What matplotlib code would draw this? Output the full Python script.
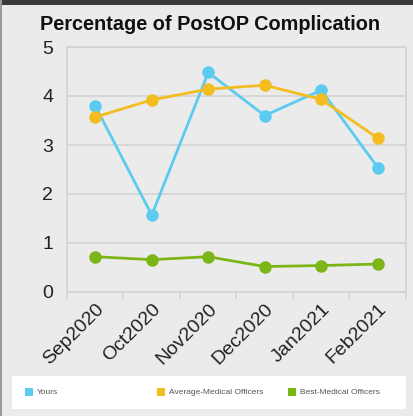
import matplotlib.pyplot as plt
from matplotlib.patches import Rectangle

plt.rcParams['font.family'] = ['Liberation Sans', 'DejaVu Sans']

months = ['Sep2020', 'Oct2020', 'Nov2020', 'Dec2020', 'Jan2021', 'Feb2021']
yours = [3.80, 1.57, 4.48, 3.60, 4.12, 2.54]
average_mo = [3.57, 3.92, 4.14, 4.22, 3.93, 3.14]
best_mo = [0.72, 0.66, 0.72, 0.52, 0.54, 0.57]

c_yours = '#5bcbf0'
c_avg = '#f4bd1f'
c_best = '#7cb518'
bg = '#ebebeb'
grid = '#d3d3d3'

W, H = 414, 416
fig = plt.figure(figsize=(W / 100, H / 100), dpi=100, facecolor=bg)

# frame of the screenshot
fig.patches.append(Rectangle((0, 1 - 5 / H), 1, 5 / H, transform=fig.transFigure,
                             facecolor='#3a3a3a', edgecolor='none'))
fig.patches.append(Rectangle((0, 0), 2 / W, 1, transform=fig.transFigure,
                             facecolor='#9a9a9a', edgecolor='none'))

# plot area in pixels: x 67..406, y 47..292
ax = fig.add_axes([67 / W, 1 - 292 / H, (406 - 67) / W, (292 - 47) / H])
ax.set_facecolor(bg)

x = list(range(len(months)))
ax.plot(x, yours, color=c_yours, lw=2.0, marker='o', ms=8, zorder=3)
ax.plot(x, average_mo, color=c_avg, lw=2.0, marker='o', ms=8, zorder=3)
ax.plot(x, best_mo, color=c_best, lw=2.0, marker='o', ms=8, zorder=3)

ax.set_xlim(-0.5, 5.5)
ax.set_ylim(0, 5)
ax.set_yticks([0, 1, 2, 3, 4, 5])
ax.yaxis.grid(True, color=grid, lw=1.2)
ax.set_axisbelow(True)

ax.set_xticks(x)
ax.set_xticklabels(months, rotation=45, ha='right', rotation_mode='anchor',
                   fontsize=14, color='#222222')
ax.set_xticks([i - 0.5 for i in range(len(months) + 1)], minor=True)
ax.tick_params(axis='x', which='major', length=0, pad=6)
ax.tick_params(axis='x', which='minor', length=5, color=grid, width=1.2)
ax.tick_params(axis='y', length=0, labelsize=14, pad=10, labelcolor='#222222')

for s in ax.spines.values():
    s.set_color(grid)
    s.set_linewidth(1.2)

fig.text(210 / W, 1 - 25 / H, 'Percentage of PostOP Complication',
         ha='center', va='center', fontsize=14.3, fontweight='bold', color='#111111')

# legend box
fig.patches.append(Rectangle((12 / W, 1 - 409 / H), (406 - 12) / W, 33 / H,
                             transform=fig.transFigure, facecolor='white',
                             edgecolor='none'))
legend_items = [('Yours', c_yours, 25), ('Average-Medical Officers', c_avg, 157),
                ('Best-Medical Officers', c_best, 288)]
for label, col, px in legend_items:
    fig.patches.append(Rectangle((px / W, 1 - 396 / H), 8 / W, 8 / H,
                                 transform=fig.transFigure, facecolor=col,
                                 edgecolor='none'))
    fig.text((px + 12) / W, 1 - 392 / H, label, ha='left', va='center',
             fontsize=6, color='#555555')

plt.savefig('out.png', dpi=100, facecolor=bg)
